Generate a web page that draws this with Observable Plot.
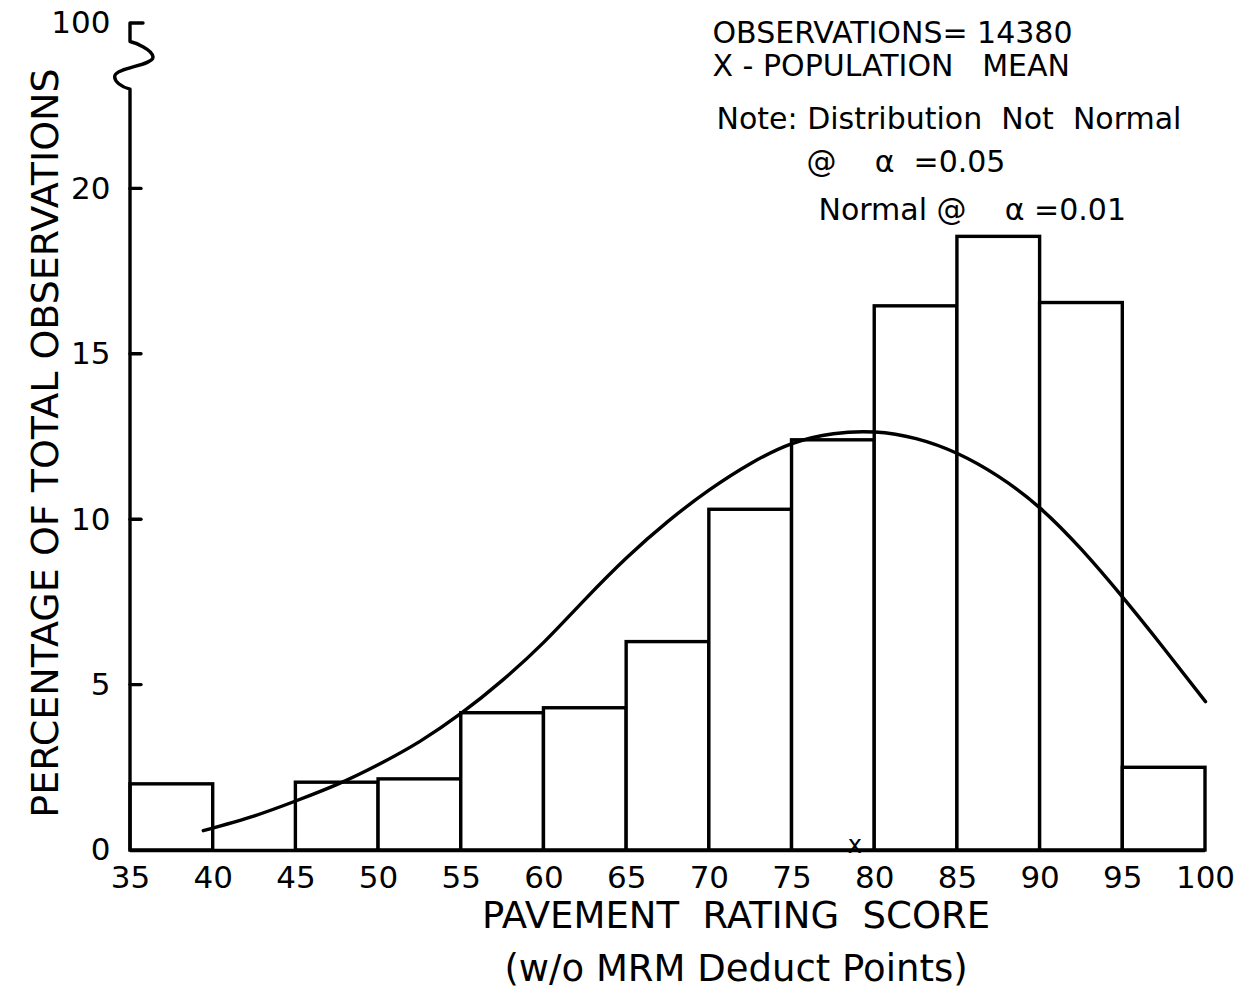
<!DOCTYPE html>
<html><head><meta charset="utf-8">
<script src="https://cdn.jsdelivr.net/npm/d3@7"></script>
<script src="https://cdn.jsdelivr.net/npm/@observablehq/plot@0.6"></script>
<style>
body{margin:0;background:#fff;}
svg text{white-space:pre;}
</style></head><body><div id="chart"></div>
<script>
// Histogram bins (pavement rating score) and percentage of total observations
const binStart = [35, 40, 45, 50, 55, 60, 65, 70, 75, 80, 85, 90, 95];
const binEnd   = [40, 45, 50, 55, 60, 65, 70, 75, 80, 85, 90, 95, 100];
const pct      = [2.0, 0, 2.05, 2.15, 4.15, 4.3, 6.3, 10.3, 12.4, 16.45, 18.55, 16.55, 2.5];

// Fitted normal curve as drawn
const curveX = [39.4, 42.5, 45, 47.5, 50, 52.5, 55, 57.5, 60, 62.5, 65, 67.5, 70, 72.5, 75, 77.5, 80, 82.5, 85, 87.5, 90, 92.5, 95, 97.5, 100];
const curveY = [0.6, 1.05, 1.5, 2.0, 2.6, 3.3, 4.15, 5.15, 6.3, 7.6, 8.85, 9.95, 10.9, 11.7, 12.3, 12.6, 12.65, 12.45, 12.0, 11.3, 10.35, 9.1, 7.65, 6.1, 4.5];

const meanScore = 78.8;

const xTicks = [35, 40, 45, 50, 55, 60, 65, 70, 75, 80, 85, 90, 95, 100];
const yTicks = [0, 5, 10, 15, 20, 25];
const yTickLabels = ["0", "5", "10", "15", "20", "100"];
const yBreakStart = 23;   // axis break drawn between this value and the "100" tick

const notes = ["OBSERVATIONS= 14380", "X - POPULATION   MEAN", "Note: Distribution  Not  Normal", "@    α  =0.05", "Normal @    α =0.01"];
const meanMarker = "x";
const xTitle = "PAVEMENT  RATING  SCORE";
const xSubtitle = "(w/o MRM Deduct Points)";
const yTitle = "PERCENTAGE OF TOTAL OBSERVATIONS";

const bins = binStart.map((s, i) => ({x1: s, x2: binEnd[i], pct: pct[i]}));
const curve = curveX.map((x, i) => ({x, y: curveY[i]}));

const SW = 3.4;

// Left axis line with tick marks and an axis-break squiggle, drawn from the plot's scales
function yAxisLine(index, scales) {
  const x0 = scales.x(35);
  const y0 = scales.y(0), yb = scales.y(yBreakStart), yt = scales.y(yTicks[yTicks.length - 1]);
  const h = yb - yt;
  const g = d3.create("svg:g").attr("fill", "none").attr("stroke", "black")
    .attr("stroke-width", SW).attr("stroke-linecap", "round").attr("stroke-linejoin", "round");
  const p = d3.path();
  p.moveTo(x0, y0);
  p.lineTo(x0, yb);
  p.bezierCurveTo(x0 - 8, yb - 0.03 * h, x0 - 17, yb - 0.12 * h, x0 - 15, yb - 0.21 * h);
  p.bezierCurveTo(x0 - 12, yb - 0.33 * h, x0 + 24, yb - 0.36 * h, x0 + 23, yb - 0.49 * h);
  p.bezierCurveTo(x0 + 22, yb - 0.60 * h, x0 + 6, yb - 0.70 * h, x0, yb - 0.72 * h);
  p.lineTo(x0, yt);
  p.lineTo(x0 + 13, yt);
  g.append("path").attr("d", p.toString());
  for (const t of yTicks.slice(1, -1)) {
    g.append("line").attr("x1", x0).attr("x2", x0 + 11).attr("y1", scales.y(t)).attr("y2", scales.y(t));
  }
  return g.node();
}

const noteOffsets = [[582, 10], [582, 43], [586, 96], [676, 139], [688, 187]];

const plot = Plot.plot({
  width: 1243,
  height: 992,
  marginLeft: 130,
  marginRight: 38,
  marginTop: 23,
  marginBottom: 142,
  x: {domain: [35, 100]},
  y: {domain: [0, 25]},
  style: {fontFamily: "DejaVu Sans", fontSize: "31px", color: "black", background: "white"},
  marks: [
    Plot.rectY(bins, {x1: "x1", x2: "x2", y: "pct", fill: "white", stroke: "black", strokeWidth: SW}),
    Plot.ruleY([0], {stroke: "black", strokeWidth: SW}),
    Plot.line(curve, {x: "x", y: "y", curve: "natural", stroke: "black", strokeWidth: SW}),
    Plot.text([meanScore], {x: d => d, y: 0, text: () => meanMarker, fontSize: 24, lineAnchor: "middle", dy: -5}),
    Plot.axisX({ticks: xTicks, tickSize: 0, tickPadding: 15, label: null, fontSize: 31}),
    Plot.axisY({ticks: yTicks, tickSize: 0, tickPadding: 20, label: null, fontSize: 31,
      tickFormat: d => yTickLabels[yTicks.indexOf(d)]}),
    yAxisLine,
    Plot.text([yTitle], {frameAnchor: "left", text: d => d, rotate: -90, textAnchor: "middle", lineAnchor: "middle", dx: -85, dy: 6, fontSize: 38}),
    Plot.text([xTitle], {frameAnchor: "bottom", text: d => d, textAnchor: "middle", lineAnchor: "middle", dx: 68, dy: 66, fontSize: 37}),
    Plot.text([xSubtitle], {frameAnchor: "bottom", text: d => d, textAnchor: "middle", lineAnchor: "middle", dx: 68, dy: 119, fontSize: 37}),
    ...notes.map((n, i) => Plot.text([n], {frameAnchor: "top-left", text: d => d, textAnchor: "start", lineAnchor: "middle",
      dx: noteOffsets[i][0], dy: noteOffsets[i][1], fontSize: 30}))
  ]
});
document.getElementById("chart").appendChild(plot);
</script></body></html>
